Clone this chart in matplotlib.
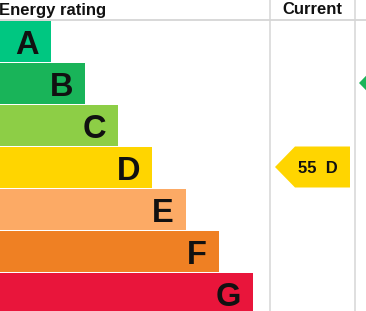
import matplotlib
matplotlib.use("Agg")
import matplotlib.pyplot as plt
from matplotlib.patches import Polygon, Rectangle

# rating bands
bands = ["A", "B", "C", "D", "E", "F", "G"]
band_ends = [51, 85, 118, 152, 186, 219, 253]
band_colors = ["#00c781", "#19b459", "#8dce46", "#ffd500", "#fcaa65", "#ef8023", "#e9153b"]

# current rating
current_score = 55
current_band = "D"
potential_band = "B"

W, H = 366, 311
fig = plt.figure(figsize=(W / 100, H / 100), dpi=100)
ax = fig.add_axes([0, 0, 1, 1])
ax.set_xlim(0, W)
ax.set_ylim(H, 0)
ax.axis("off")

font = "Liberation Sans"
top = 20
row_h = 42

for i, (b, end, c) in enumerate(zip(bands, band_ends, band_colors)):
    y0 = top + i * row_h + 0.5
    ax.add_patch(Rectangle((0, y0), end, row_h - 1, color=c, lw=0))
    ax.text(end - 12, y0 + row_h / 2, b, ha="right", va="center_baseline",
            fontsize=23.5, fontweight="bold", family=font, color="#111111")

# grid lines
ax.plot([0, W], [20, 20], color="#d6d6d6", lw=1.3)
ax.plot([270, 270], [0, H], color="#d6d6d6", lw=1.1)
ax.plot([355, 355], [0, H], color="#d6d6d6", lw=1.1)

ax.text(-1, 10, "Energy rating", ha="left", va="center", fontsize=12,
        fontweight="bold", family=font, color="#111111")
ax.text(312, 10, "Current", ha="center", va="center", fontsize=12,
        fontweight="bold", family=font, color="#111111")

# current arrow
ci = bands.index(current_band)
cy0 = top + ci * row_h + 0.5
cy1 = cy0 + row_h - 1
cm = (cy0 + cy1) / 2
ax.add_patch(Polygon([(275, cm), (295, cy0), (350, cy0), (350, cy1), (295, cy1)],
                     closed=True, color=band_colors[ci], lw=0))
ax.text(318, cm, "%d  %s" % (current_score, current_band), ha="center",
        va="center_baseline", fontsize=12, fontweight="bold", family=font,
        color="#111111")

# potential arrow (cut off at the edge)
pi = bands.index(potential_band)
py0 = top + pi * row_h + 0.5
py1 = py0 + row_h - 1
pm = (py0 + py1) / 2
ax.add_patch(Polygon([(359, pm), (379, py0), (420, py0), (420, py1), (379, py1)],
                     closed=True, color=band_colors[pi], lw=0))

fig.savefig("out.png", dpi=100)
